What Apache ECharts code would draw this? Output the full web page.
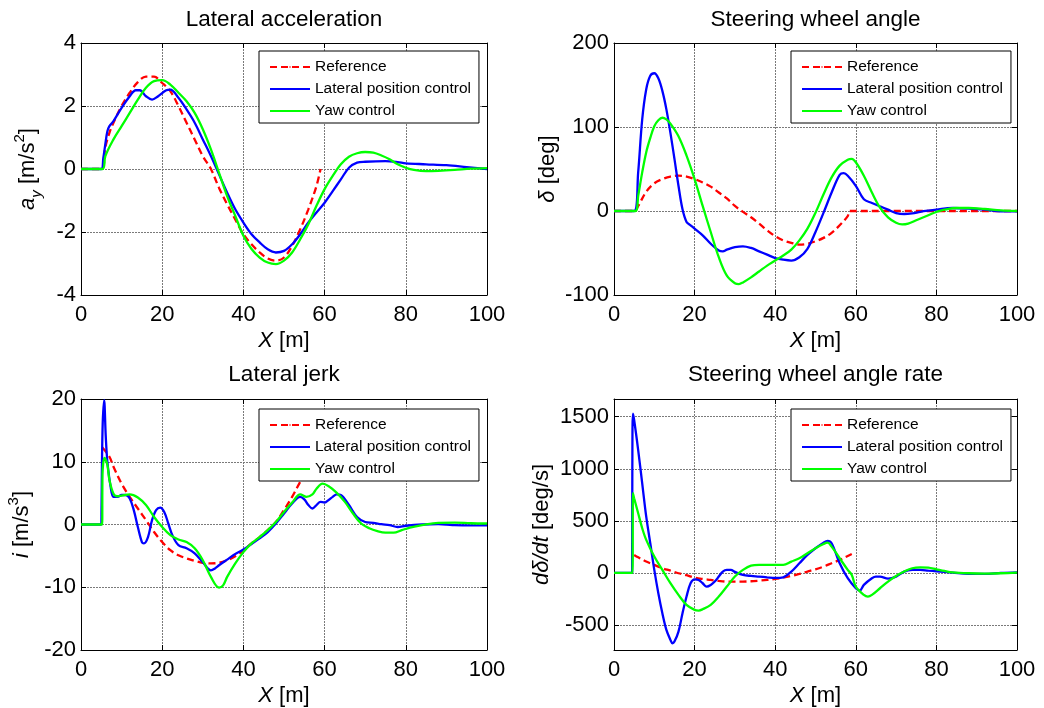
<!DOCTYPE html>
<html><head><meta charset="utf-8">
<script src="https://cdn.jsdelivr.net/npm/echarts@6/dist/echarts.min.js"></script>
<style>html,body{margin:0;padding:0;background:#fff}#c{width:1044px;height:708px}</style>
</head><body><div id="c"></div><script>
// ---------- data ----------
const seriesNames = ['Reference', 'Lateral position control', 'Yaw control'];
const titles = ['Lateral acceleration', 'Steering wheel angle', 'Lateral jerk', 'Steering wheel angle rate'];
const xTicks = [0, 20, 40, 60, 80, 100];
const accTicks = [-4, -2, 0, 2, 4];
const angTicks = [-100, 0, 100, 200];
const jerkTicks = [-20, -10, 0, 10, 20];
const rateTicks = [-500, 0, 500, 1000, 1500];

// Lateral acceleration [m/s^2]
const accRef = [[0,0],[5,0],[6,0.7],[7,1.15],[8,1.47],[10,2.0],[12,2.42],[14,2.76],[16,2.93],[18,2.93],[20,2.73],[22,2.47],[24,2.0],[26,1.47],[28,0.94],[30,0.41],[32,0],[34,-0.6],[36,-1.12],[38,-1.6],[40,-2.07],[42,-2.39],[44,-2.65],[46,-2.84],[48,-2.91],[50,-2.81],[52,-2.44],[54,-1.91],[56,-1.28],[58,-0.54],[59,0]];
const accLat = [[0,0],[5,0],[5.5,0.35],[6,0.8],[6.5,1.2],[7,1.36],[8,1.52],[10,1.94],[12,2.31],[13.5,2.5],[14.5,2.5],[16,2.31],[17.5,2.2],[19,2.31],[21,2.5],[22,2.52],[24,2.26],[26,1.89],[28,1.47],[30,0.94],[32,0.41],[34,-0.17],[36,-0.75],[38,-1.28],[40,-1.7],[42,-2.07],[44,-2.33],[46,-2.55],[48,-2.65],[50,-2.6],[52,-2.39],[54,-2.07],[56,-1.7],[58,-1.38],[60,-1.07],[62,-0.7],[64,-0.33],[66,0.04],[68,0.2],[70,0.23],[75,0.25],[78,0.22],[80,0.18],[85,0.15],[90,0.12],[95,0.06],[100,0]];
const accYaw = [[0,0],[5.3,0],[6,0.41],[8,0.94],[10,1.36],[12,1.78],[14,2.2],[16,2.58],[18,2.79],[20,2.82],[22,2.68],[24,2.42],[26,2.15],[28,1.78],[30,1.26],[32,0.62],[34,-0.12],[36,-0.86],[38,-1.49],[40,-2.12],[42,-2.54],[44,-2.81],[46,-2.97],[48,-3.02],[50,-2.91],[52,-2.65],[54,-2.23],[56,-1.75],[58,-1.17],[60,-0.64],[62,-0.22],[64,0.15],[66,0.39],[68,0.5],[70,0.54],[72,0.52],[74,0.43],[76,0.31],[78,0.15],[80,0.04],[82,-0.03],[85,-0.07],[88,-0.06],[92,-0.03],[96,0.01],[100,0.03]];

// Steering wheel angle [deg]
const angRef = [[0,0],[5,0],[6,6],[8,23],[10,33],[12,38],[14,41],[16,42],[18,41],[20,38],[22,34],[24,29],[26,22],[28,15],[30,6],[32,-1],[34,-7.5],[36,-15],[38,-23],[40,-30],[42,-35],[44,-38],[46,-40],[48,-39],[50,-36],[52,-32],[54,-26],[56,-17],[58,-6],[58.5,0],[100,0]];
const angLat = [[0,0],[5,0],[6,46],[7,109],[8,145],[9,161],[10,164],[11,158],[12,143],[13,121],[14,93],[15,62],[16,30],[17,2],[18,-13],[19,-17],[20,-21],[22,-29],[24,-39],[26,-47],[27,-48],[28,-46],[30,-43],[32,-42],[34,-44],[36,-48],[38,-52],[40,-56],[42,-58],[44,-59],[46,-55],[48,-45],[50,-25],[52,-2],[54,22],[56,43],[57,45],[58,42],[60,30],[62,14],[64,9.5],[66,5.5],[68,1.6],[70,-2.4],[72,-3.6],[74,-2.8],[76,-1],[78,0.4],[80,1.6],[84,3.6],[88,3],[92,1.6],[96,-0.4],[100,-0.4]];
const angYaw = [[0,0],[5.3,0],[6,18],[7,46],[8,70],[9,87],[10,101],[11,108],[12,111],[13,109],[14,104],[16,89],[18,66],[20,38],[22,6],[24,-25],[26,-55],[28,-77],[30,-86],[31,-87],[32,-85],[34,-79],[36,-72],[38,-65],[40,-59],[42,-53],[44,-46],[46,-35],[48,-21],[50,-2],[52,20],[54,40],[56,54],[58,61],[59,62],[60,58],[62,42],[64,22],[66,4],[68,-7.5],[70,-14],[71.5,-16],[73,-15],[75,-11],[78,-5],[80,-1],[82,1.6],[85,3.6],[88,3.6],[92,2.4],[96,0.8],[100,0]];

// Lateral jerk [m/s^3]
const jerkRef = [[5.2,12.3],[7,10.8],[8,9.2],[10,6.5],[12,4.4],[14,2.55],[16,0.7],[18,-1.2],[20,-2.8],[22,-4.1],[24,-4.9],[26,-5.4],[28,-5.8],[30,-6.1],[32,-6.2],[34,-6.1],[36,-5.7],[38,-5.05],[40,-4.1],[42,-3.0],[44,-2.0],[46,-0.9],[48,0.4],[50,2.3],[52,4.4],[54,6.8],[56,9.0],[58,11.4],[59,12.5]];
const jerkLat = [[0,0],[5,0],[5.05,2.3],[5.3,15],[5.7,19.8],[6.1,14],[6.5,10],[7.3,6],[8,4.4],[9,4.4],[10,4.7],[11,4.7],[12,4.15],[13,2.3],[14,-0.4],[15,-2.8],[15.5,-3.0],[16.5,-2.0],[17.5,0.7],[18.5,2.3],[19.5,2.7],[20.5,2.0],[21.5,0.16],[22.5,-1.7],[24,-3.3],[26,-3.8],[28,-4.6],[30,-6.0],[32,-7.3],[33,-7.0],[34,-6.5],[36,-5.6],[38,-4.7],[40,-4.0],[42,-3.1],[44,-2.2],[46,-1.2],[48,0.16],[50,1.75],[52,3.35],[54,4.4],[55,4.0],[56,3.1],[57,2.55],[58,3.1],[59,3.6],[60,3.5],[61,3.9],[62,4.4],[63,4.8],[64,4.7],[66,3.1],[68,1.2],[70,0.4],[72,0.27],[74,0.05],[76,-0.1],[78,-0.4],[80,-0.2],[84,0],[88,0.05],[90,0],[92,-0.1],[96,-0.15],[100,-0.15]];
const jerkYaw = [[0,0],[5.2,0],[5.3,8],[5.8,10.6],[6.5,9.5],[7,7.1],[8,4.9],[9,4.5],[10,4.6],[12,4.8],[14,4.3],[16,3.1],[18,1.2],[20,-0.4],[22,-1.7],[24,-2.4],[26,-2.8],[28,-3.8],[30,-5.7],[32,-8.35],[34,-10.05],[35,-9.7],[36,-8.35],[38,-6.2],[40,-4.4],[42,-3.0],[44,-2.0],[46,-0.9],[48,0.4],[50,2.0],[52,3.5],[54,4.8],[55.5,4.4],[57,4.8],[58,5.7],[59.5,6.5],[61,6.1],[63,5.05],[65,3.6],[67,1.75],[69,0.16],[71,-0.6],[73,-1.06],[75,-1.3],[77,-1.3],[79,-0.9],[81,-0.5],[84,-0.1],[88,0.27],[92,0.3],[96,0.2],[100,0.16]];

// Steering wheel angle rate [deg/s]
const rateRef = [[5,173],[6,150],[8,109],[10,77],[12,45],[14,22],[16,-3],[18,-22],[20,-45],[22,-58],[24,-67],[26,-77],[28,-83],[30,-83],[32,-83],[34,-80],[36,-74],[38,-67],[40,-58],[42,-45],[44,-29],[46,-10],[48,13],[50,35],[52,61],[54,93],[56,125],[58,163],[59,182]];
const rateLat = [[0,0],[4.5,0],[4.55,1000],[4.7,1530],[5,1468],[6,1180],[7,860],[8,540],[9,285],[10,29],[11,-195],[12,-387],[13,-547],[14,-643],[14.5,-675],[15,-659],[16,-563],[17,-387],[18,-227],[19,-99],[20,-61],[21,-67],[22,-99],[23,-131],[24,-115],[25,-83],[26,-35],[27,13],[28,29],[29,29],[30,10],[32,-19],[34,-29],[36,-35],[38,-42],[40,-48],[42,-42],[44,13],[46,93],[48,173],[50,237],[52,291],[53,307],[54,285],[56,93],[58,-51],[60,-147],[61,-170],[62,-115],[64,-51],[65,-35],[66,-35],[68,-54],[70,-35],[72,13],[74,29],[76,29],[78,22],[80,16],[84,3],[88,-10],[92,-10],[96,0],[100,6]];
const rateYaw = [[0,0],[4.6,0],[4.7,765],[5,717],[6,573],[7,429],[8,317],[10,157],[12,29],[14,-99],[16,-211],[18,-307],[20,-355],[21,-361],[22,-349],[24,-307],[26,-227],[28,-131],[30,-35],[32,29],[34,70],[36,77],[40,77],[42,77],[44,109],[46,141],[48,189],[50,237],[52,278],[53,291],[54,253],[56,141],[58,29],[59,-19],[60,-131],[62,-211],[63,-227],[64,-211],[66,-147],[68,-83],[70,-29],[72,13],[74,45],[76,54],[78,51],[80,35],[82,19],[84,6],[88,-3],[92,-6],[96,-3],[100,3]];

// ---------- chart ----------
const FONT = 'Liberation Sans, Arial, Helvetica, sans-serif';
const rich = {
  n: {fontSize: 22, fontFamily: FONT, color: '#000', lineHeight: 32, verticalAlign: 'middle'},
  it: {fontSize: 22, fontFamily: FONT, color: '#000', lineHeight: 32, fontStyle: 'italic', verticalAlign: 'middle'},
  sup: {fontSize: 15, fontFamily: FONT, color: '#000', lineHeight: 15, verticalAlign: 'top'},
  sub: {fontSize: 15, fontFamily: FONT, color: '#000', lineHeight: 15, fontStyle: 'italic', verticalAlign: 'bottom'}
};
const panels = [
  {grid: {left: 81, top: 43, width: 406, height: 252}, min: -4, max: 4, ticks: accTicks, data: [accRef, accLat, accYaw],
   yName: '{it|a}{sub|y}{n| [m/s}{sup|2}{n|]}', yGap: 37, titleGap: 12, xGap: 30, legend: {left: 259, top: 51}},
  {grid: {left: 614, top: 43, width: 403, height: 252}, min: -100, max: 200, ticks: angTicks, data: [angRef, angLat, angYaw],
   yName: '{it|δ}{n| [deg]}', yGap: 50, titleGap: 12, xGap: 30, legend: {left: 791, top: 51}},
  {grid: {left: 81, top: 399, width: 406, height: 251}, min: -20, max: 20, ticks: jerkTicks, data: [jerkRef, jerkLat, jerkYaw],
   yName: '{it|i}{n| [m/s}{sup|3}{n|]}', yGap: 43, titleGap: 13, xGap: 30, legend: {left: 259, top: 409}},
  {grid: {left: 614, top: 399, width: 403, height: 251}, min: -740, max: 1670, ticks: rateTicks, data: [rateRef, rateLat, rateYaw],
   yName: '{it|dδ/dt}{n| [deg/s]}', yGap: 56, titleGap: 13, xGap: 30, legend: {left: 791, top: 409}}
];
const colors = ['#ff0000', '#0000ff', '#00ff00'];
const lineTypes = [[7, 4], 'solid', 'solid'];

const boxLine = {show: true, onZero: false, lineStyle: {color: '#000', width: 1}};
const inTick = {show: true, inside: true, length: 5, lineStyle: {color: '#000', width: 1}};
const gridSplit = {show: true, lineStyle: {color: '#7a7a7a', width: 1, type: [2, 1]}};
const labelStyle = {fontSize: 22, color: '#000', fontFamily: FONT, formatter: v => String(v)};

const option = {animation: false, backgroundColor: '#fff', grid: [], xAxis: [], yAxis: [], legend: [], series: []};
panels.forEach((p, i) => {
  option.grid.push(Object.assign({containLabel: false}, p.grid));
  option.xAxis.push({
    gridIndex: i, type: 'value', min: 0, max: 100, position: 'bottom',
    axisLine: boxLine, axisTick: Object.assign({customValues: xTicks}, inTick),
    axisLabel: Object.assign({margin: 9, customValues: xTicks}, labelStyle),
    splitLine: gridSplit,
    name: '{it|X}{n| [m]}', nameLocation: 'middle', nameGap: p.xGap, nameTextStyle: {rich: rich}
  });
  option.xAxis.push({
    gridIndex: i, type: 'value', min: 0, max: 100, position: 'top',
    axisLine: boxLine, axisTick: Object.assign({customValues: xTicks}, inTick),
    axisLabel: {show: false}, splitLine: {show: false},
    name: titles[i], nameLocation: 'middle', nameGap: p.titleGap,
    nameTextStyle: {fontSize: 22.5, color: '#000', fontFamily: FONT}
  });
  option.yAxis.push({
    gridIndex: i, type: 'value', min: p.min, max: p.max, position: 'left',
    axisLine: boxLine, axisTick: Object.assign({customValues: p.ticks}, inTick),
    axisLabel: Object.assign({margin: 5, customValues: p.ticks}, labelStyle),
    splitLine: gridSplit,
    name: p.yName, nameLocation: 'middle', nameGap: p.yGap, nameRotate: 90, nameTextStyle: {rich: rich}
  });
  option.yAxis.push({
    gridIndex: i, type: 'value', min: p.min, max: p.max, position: 'right',
    axisLine: boxLine, axisTick: Object.assign({customValues: p.ticks}, inTick),
    axisLabel: {show: false}, splitLine: {show: false}
  });
  option.legend.push({
    left: p.legend.left, top: p.legend.top, orient: 'vertical', data: seriesNames, selectedMode: false,
    itemWidth: 40, itemHeight: 2, itemGap: 6, padding: [8, 8, 4, 10],
    backgroundColor: '#fff', borderColor: '#000', borderWidth: 1, borderRadius: 0,
    textStyle: {fontSize: 15.5, color: '#000', fontFamily: FONT, lineHeight: 16}
  });
  p.data.forEach((d, k) => {
    option.series.push({
      name: seriesNames[k], type: 'line', xAxisIndex: 2 * i, yAxisIndex: 2 * i, data: d,
      symbol: 'none', showSymbol: false, smooth: 0.35, clip: true,
      color: colors[k], lineStyle: {color: colors[k], width: 2.3, type: lineTypes[k]}
    });
  });
});
const chart = echarts.init(document.getElementById('c'), null, {renderer: 'canvas'});
chart.setOption(option);
</script></body></html>
